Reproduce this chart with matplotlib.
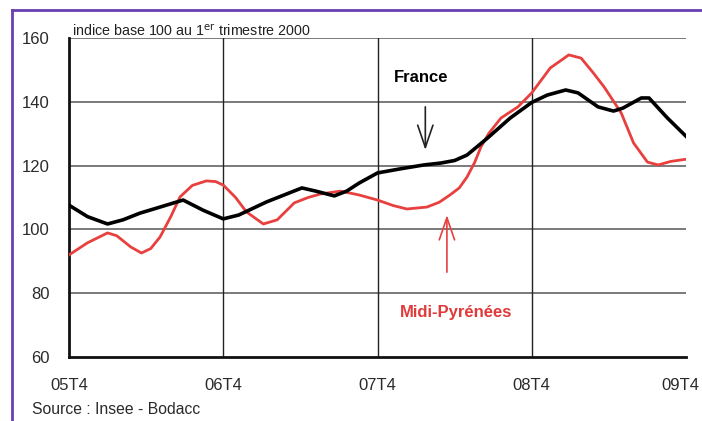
import matplotlib.pyplot as plt
import matplotlib.transforms as mtransforms
from matplotlib.lines import Line2D

plt.rcParams['font.family'] = ['Liberation Sans', 'DejaVu Sans']

# years since 05T4
france_x = [0.0, 0.12, 0.25, 0.35, 0.46, 0.57, 0.74, 0.87, 1.0, 1.1, 1.28, 1.51, 1.6,
            1.72, 1.8, 1.88, 2.0, 2.15, 2.3, 2.41, 2.5, 2.58, 2.71, 2.86, 3.0, 3.1,
            3.22, 3.3, 3.43, 3.53, 3.59, 3.71, 3.76, 3.88, 4.0]
france_y = [107.6, 104.0, 101.7, 103.0, 105.1, 106.7, 109.2, 106.0, 103.3, 104.5, 108.6,
            113.0, 112.0, 110.5, 112.0, 114.5, 117.7, 119.0, 120.2, 120.8, 121.6, 123.3,
            128.5, 134.9, 139.8, 142.1, 143.7, 142.8, 138.4, 137.1, 138.0, 141.2, 141.2,
            134.9, 129.2]

mp_x = [0.0, 0.12, 0.25, 0.31, 0.4, 0.47, 0.53, 0.59, 0.66, 0.72, 0.8, 0.89, 0.95, 1.0,
        1.08, 1.15, 1.26, 1.35, 1.46, 1.55, 1.63, 1.76, 1.88, 2.0, 2.1, 2.19, 2.32, 2.4,
        2.47, 2.53, 2.58, 2.63, 2.67, 2.72, 2.8, 2.91, 3.0, 3.12, 3.24, 3.32, 3.4, 3.47,
        3.58, 3.66, 3.75, 3.82, 3.9, 4.0]
mp_y = [92.0, 95.8, 98.9, 98.0, 94.5, 92.6, 94.0, 97.6, 104.0, 110.2, 113.8, 115.2,
        115.0, 113.9, 110.0, 105.5, 101.7, 103.0, 108.3, 110.0, 111.1, 112.0, 110.8,
        109.2, 107.5, 106.4, 107.0, 108.5, 110.8, 113.0, 116.4, 121.0, 125.8, 130.0,
        134.9, 138.4, 142.8, 150.6, 154.7, 153.7, 149.0, 144.6, 136.5, 127.1, 121.1,
        120.2, 121.3, 122.0]

x_ticks = [0, 1, 2, 3, 4]
x_labels = ['05T4', '06T4', '07T4', '08T4', '09T4']
y_ticks = [60, 80, 100, 120, 140, 160]

red = '#e8403e'

fig = plt.figure(figsize=(7.02, 4.21), dpi=100)
ax = fig.add_axes([69 / 702, 1 - 357 / 421, 617 / 702, 319 / 421])

for y in y_ticks[1:]:
    ax.axhline(y, color='#7a7a7a', lw=1.4, zorder=1)
for x in x_ticks[1:4]:
    ax.axvline(x, color='#222222', lw=1.0, zorder=1)

ax.plot(mp_x, mp_y, color=red, lw=2.0, solid_joinstyle='round', zorder=3)
ax.plot(france_x, france_y, color='black', lw=2.6, solid_joinstyle='round', zorder=4)

ax.set_xlim(0, 4)
ax.set_ylim(60, 160)
ax.set_xticks(x_ticks)
ax.set_xticklabels(x_labels)
ax.set_yticks(y_ticks)
ax.tick_params(axis='both', length=0, labelsize=12, colors='#2a2a2a')
ax.tick_params(axis='x', pad=15)
ax.tick_params(axis='y', pad=14)
# last label sits right at the picture edge
last = ax.get_xticklabels()[-1]
last.set_transform(last.get_transform() +
                   mtransforms.ScaledTranslation(-4 / 72, 0, fig.dpi_scale_trans))
for s in ['top', 'right']:
    ax.spines[s].set_visible(False)
for s in ['left', 'bottom']:
    ax.spines[s].set_linewidth(2.0)
    ax.spines[s].set_color('#111111')

ax.text(2.286, 147.5, 'France', fontsize=12, fontweight='bold', ha='center', va='center')
ax.annotate('', xy=(2.31, 124.9), xytext=(2.31, 138.4),
            arrowprops=dict(arrowstyle='->,head_length=1.6,head_width=0.55',
                            color='#222222', lw=1.2, shrinkA=0, shrinkB=0))
ax.text(2.51, 74.1, 'Midi-Pyrénées', fontsize=12, fontweight='bold', color='#e03a3a',
        ha='center', va='center')
ax.annotate('', xy=(2.45, 104.5), xytext=(2.45, 86.6),
            arrowprops=dict(arrowstyle='->,head_length=1.6,head_width=0.55',
                            color=red, lw=1.2, shrinkA=0, shrinkB=0))

fig.text(72 / 702, 1 - 36 / 421, 'indice base 100 au 1$^{\\mathrm{er}}$ trimestre 2000',
         fontsize=10.3, ha='left', va='baseline', color='#222222')
fig.text(32 / 702, 1 - 410 / 421, 'Source : Insee - Bodacc', fontsize=11.3,
         ha='left', va='center', color='#2a2a2a')

# purple frame
fig.add_artist(Line2D([12 / 702, 1], [1 - 10 / 421, 1 - 10 / 421], color='#6a3fb0', lw=2))
fig.add_artist(Line2D([12 / 702, 12 / 702], [0, 1 - 10 / 421], color='#6a3fb0', lw=2))

fig.savefig('out.png', dpi=100)
